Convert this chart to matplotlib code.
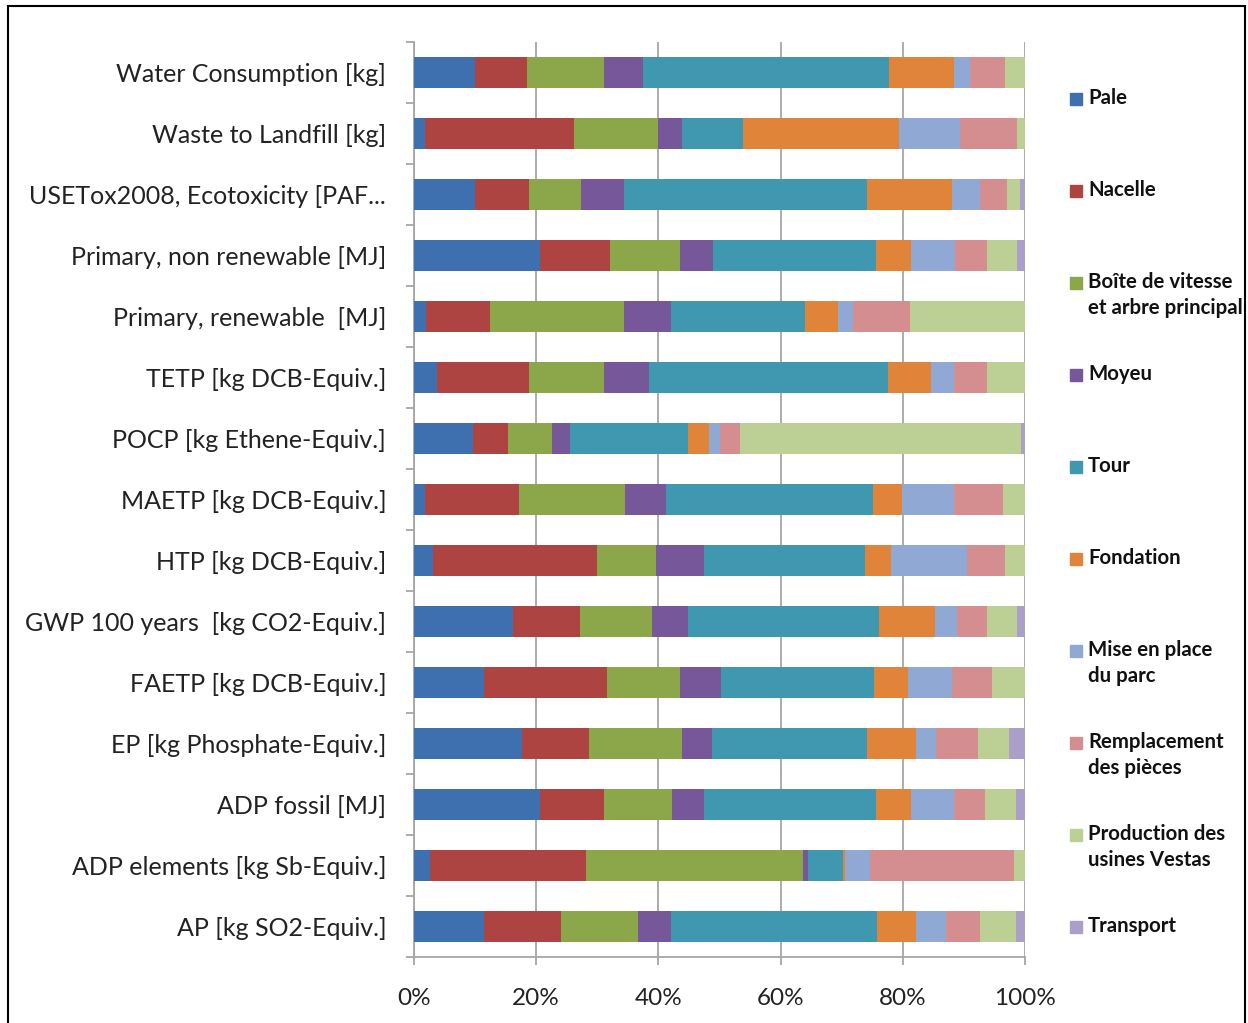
import matplotlib
matplotlib.use("Agg")
import matplotlib.pyplot as plt
from matplotlib.patches import Rectangle
import numpy as np

plt.rcParams['font.family'] = ['Lato', 'DejaVu Sans']

# Impact categories, bottom to top
categories = [
    "AP [kg SO2-Equiv.]",
    "ADP elements [kg Sb-Equiv.]",
    "ADP fossil [MJ]",
    "EP [kg Phosphate-Equiv.]",
    "FAETP [kg DCB-Equiv.]",
    "GWP 100 years  [kg CO2-Equiv.]",
    "HTP [kg DCB-Equiv.]",
    "MAETP [kg DCB-Equiv.]",
    "POCP [kg Ethene-Equiv.]",
    "TETP [kg DCB-Equiv.]",
    "Primary, renewable  [MJ]",
    "Primary, non renewable [MJ]",
    "USETox2008, Ecotoxicity [PAF...",
    "Waste to Landfill [kg]",
    "Water Consumption [kg]",
]

series_names = [
    "Pale", "Nacelle", "Boîte de vitesse\net arbre principal", "Moyeu", "Tour",
    "Fondation", "Mise en place\ndu parc", "Remplacement\ndes pièces",
    "Production des\nusines Vestas", "Transport",
]

# share (%) of each component, one list per series, same order as categories
pale = [11.4, 2.7, 20.6, 17.6, 11.4, 16.2, 3.1, 1.8, 9.7, 3.7, 1.9, 20.6, 10.0, 1.8, 10.0]
nacelle = [12.7, 25.5, 10.5, 11.0, 20.2, 10.9, 26.8, 15.4, 5.7, 15.2, 10.6, 11.4, 8.9, 24.4, 8.5]
boite = [12.6, 35.5, 11.2, 15.3, 11.9, 11.8, 9.7, 17.4, 7.2, 12.2, 21.9, 11.5, 8.5, 13.7, 12.6]
moyeu = [5.4, 0.8, 5.2, 4.8, 6.7, 5.9, 7.9, 6.7, 3.0, 7.4, 7.7, 5.5, 6.9, 4.0, 6.4]
tour = [33.7, 5.7, 28.1, 25.4, 25.1, 31.3, 26.3, 33.8, 19.2, 39.1, 21.9, 26.6, 39.9, 9.9, 40.2]
fondation = [6.3, 0.3, 5.8, 8.0, 5.6, 9.1, 4.3, 4.7, 3.5, 7.0, 5.4, 5.7, 13.8, 25.6, 10.7]
mise = [4.9, 4.1, 6.9, 3.4, 7.1, 3.6, 12.4, 8.6, 1.7, 3.8, 2.5, 7.3, 4.6, 10.0, 2.6]
remplacement = [5.7, 23.6, 5.1, 6.8, 6.6, 5.0, 6.2, 8.0, 3.4, 5.4, 9.2, 5.2, 4.5, 9.3, 5.8]
production = [5.8, 1.8, 5.1, 5.0, 5.4, 4.9, 3.3, 3.6, 45.9, 6.2, 18.9, 4.9, 2.0, 1.3, 3.2]
transport = [1.5, 0.0, 1.5, 2.7, 0.0, 1.3, 0.0, 0.0, 0.7, 0.0, 0.0, 1.3, 0.9, 0.0, 0.0]

colors = ["#3e6fae", "#ae4442", "#8ca64a", "#76579a", "#3f97b0",
          "#e0843a", "#8fa8d4", "#d48e90", "#bcd096", "#a99fc9"]

data = np.array([pale, nacelle, boite, moyeu, tour, fondation, mise,
                 remplacement, production, transport])
data = data / data.sum(axis=0) * 100

fig = plt.figure(figsize=(12.48, 10.23), dpi=100)
ax = fig.add_axes([414 / 1248, 1 - 957 / 1023, 611 / 1248, 915 / 1023])

y = np.arange(len(categories))
left = np.zeros(len(categories))
for vals, col in zip(data, colors):
    ax.barh(y, vals, left=left, height=0.5, color=col, zorder=3)
    left += vals

ax.set_xlim(0, 100)
ax.set_ylim(-0.5, len(categories) - 0.5)
ax.set_xticks([0, 20, 40, 60, 80, 100])
ax.set_xticklabels(["0%", "20%", "40%", "60%", "80%", "100%"], fontsize=17.5, color="#222222")
ax.grid(axis="x", color="#a6a6a6", linewidth=1.3, zorder=0)

ax.set_yticks(y)
ax.set_yticklabels(categories, fontsize=18, color="#222222")
ax.set_yticks(np.arange(-0.5, len(categories), 1), minor=True)
ax.tick_params(axis="y", which="major", length=0, pad=20)
ax.tick_params(axis="y", which="minor", length=6, color="#a6a6a6", width=1.3)
ax.tick_params(axis="x", length=6, color="#a6a6a6", width=1.3, pad=16)

for s in ["top", "right"]:
    ax.spines[s].set_visible(False)
for s in ["left", "bottom"]:
    ax.spines[s].set_color("#a6a6a6")
    ax.spines[s].set_linewidth(1.3)

# legend, one entry per series, spaced evenly down the right side
leg_top = 1 - 99 / 1023
leg_step = 92 / 1023
for i, (name, col) in enumerate(zip(series_names, colors)):
    yy = leg_top - i * leg_step
    fig.patches.append(Rectangle((1070 / 1248, yy - 6 / 1023), 12 / 1248, 12 / 1023,
                                 transform=fig.transFigure, color=col))
    fig.text(1088 / 1248, yy + 11 / 1023, name, fontsize=14.7, fontweight="bold",
             va="top", ha="left", color="#111111", linespacing=1.38)

# outer frame
fig.patches.append(Rectangle((8 / 1248, -0.05), 1237 / 1248, 1.05 - 6 / 1023,
                             transform=fig.transFigure, fill=False,
                             edgecolor="black", linewidth=1.5))

fig.savefig("out.png", dpi=100)
